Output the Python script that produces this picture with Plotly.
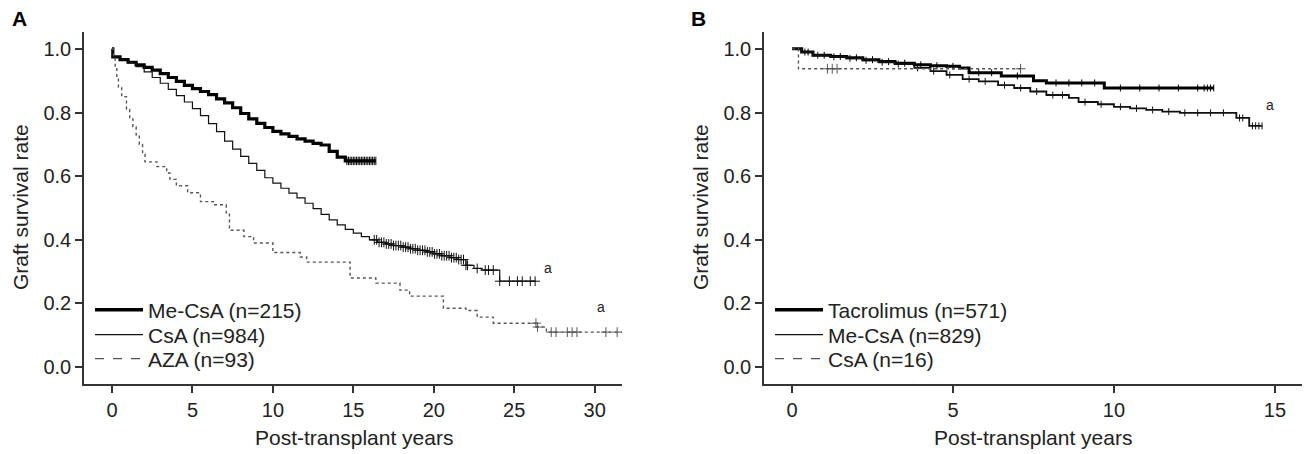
import numpy as np
import plotly.graph_objects as go

# ---------------- Data ----------------
# Panel A
A_mecsa_t = [0, 0.05, 0.5, 1.0, 1.5, 2.0, 2.5, 3.0, 3.5, 4.0, 4.5, 5.0, 5.5, 6.0, 6.5, 7.0, 7.5, 8.0, 8.5, 9.0,
             9.5, 10.0, 10.5, 11.0, 11.5, 12.0, 12.5, 13.0, 13.5, 14.0, 14.5, 16.4]
A_mecsa_s = [1.0, 0.975, 0.966, 0.958, 0.95, 0.942, 0.933, 0.922, 0.91, 0.898, 0.885, 0.875, 0.866, 0.856, 0.843,
             0.83, 0.815, 0.797, 0.78, 0.766, 0.753, 0.741, 0.733, 0.725, 0.717, 0.71, 0.703, 0.698, 0.678, 0.66,
             0.648, 0.648]
A_mecsa_cens = [14.6, 14.7, 14.8, 14.9, 15.0, 15.1, 15.2, 15.3, 15.4, 15.5, 15.6, 15.7, 15.8, 15.9, 16.0,
                16.1, 16.2, 16.3, 16.4]

A_csa_t = [0, 0.05, 0.5, 1.0, 1.5, 2.0, 2.5, 3.0, 3.5, 4.0, 4.5, 5.0, 5.5, 6.0, 6.5, 7.0, 7.5, 8.0, 8.5, 9.0,
           9.5, 10.0, 10.5, 11.0, 11.5, 12.0, 12.5, 13.0, 13.5, 14.0, 14.5, 15.0, 15.5, 16.0, 16.5, 17.0, 17.5,
           18.0, 18.5, 19.0, 19.5, 20.0, 20.5, 21.0, 21.5, 22.0, 22.5, 23.0, 24.1, 26.3]
A_csa_s = [1.0, 0.975, 0.968, 0.956, 0.944, 0.928, 0.91, 0.892, 0.873, 0.853, 0.833, 0.812, 0.79, 0.765, 0.74,
           0.71, 0.685, 0.662, 0.64, 0.618, 0.595, 0.578, 0.562, 0.547, 0.532, 0.515, 0.498, 0.48, 0.463, 0.447,
           0.433, 0.421, 0.41, 0.4, 0.392, 0.387, 0.382, 0.377, 0.372, 0.367, 0.362, 0.356, 0.35, 0.344, 0.338,
           0.32, 0.31, 0.305, 0.27, 0.27]
A_csa_cens = [16.3, 16.45, 16.6, 16.75, 16.9, 17.05, 17.2, 17.35, 17.5, 17.65, 17.8, 17.95, 18.1, 18.25, 18.4,
              18.55, 18.7, 18.85, 19.0, 19.15, 19.3, 19.45, 19.6, 19.75, 19.9, 20.05, 20.2, 20.35, 20.5, 20.65,
              20.8, 20.95, 21.1, 21.25, 21.4, 21.55, 21.7, 21.85, 22.0, 22.1,
              22.7, 23.2, 23.4, 23.7, 24.1, 24.7, 25.2, 25.5, 26.0, 26.3]

A_aza_t = [0, 0.1, 0.2, 0.3, 0.4, 0.6, 0.9, 1.1, 1.3, 1.5, 1.7, 1.9, 2.05, 2.8, 3.4, 3.6, 4.0, 4.7, 5.5, 6.3,
           7.1, 7.3, 8.2, 8.8, 10.0, 11.7, 12.1, 14.8, 16.4, 17.9, 18.5, 20.6, 22.0, 22.7, 23.7, 26.4, 27.0, 31.7]
A_aza_s = [1.0, 0.97, 0.94, 0.91, 0.88, 0.85, 0.81, 0.78, 0.755, 0.73, 0.70, 0.67, 0.645, 0.63, 0.61, 0.59,
           0.57, 0.548, 0.52, 0.51, 0.484, 0.43, 0.41, 0.39, 0.36, 0.346, 0.33, 0.28, 0.264, 0.242, 0.223,
           0.185, 0.178, 0.157, 0.138, 0.126, 0.11, 0.11]
A_aza_cens = [26.35, 26.45, 27.3, 27.6, 28.3, 28.6, 28.9, 30.7, 31.4]

# Panel B
B_tac_t = [0, 0.3, 0.65, 1.2, 1.7, 2.2, 2.7, 3.2, 3.8, 4.3, 4.8, 5.2, 5.5, 6.5, 7.5, 7.9, 9.7, 13.1]
B_tac_s = [1.0, 0.99, 0.98, 0.976, 0.972, 0.966, 0.96, 0.955, 0.95, 0.947, 0.945, 0.94, 0.925, 0.915, 0.9,
           0.893, 0.877, 0.877]
B_tac_cens = [0.5, 1.0, 1.5, 2.0, 2.5, 3.0, 3.5, 4.0, 4.5, 5.0, 5.8, 6.2, 7.0, 8.2, 8.6, 9.0, 9.4,
              10.2, 10.8, 11.4, 12.0, 12.6, 12.8, 12.9, 13.0, 13.1]

B_mecsa_t = [0, 0.3, 0.65, 1.2, 1.7, 2.2, 2.7, 3.2, 3.8, 4.3, 4.8, 5.3, 5.8, 6.4, 6.9, 7.4, 7.9, 8.6, 8.9, 9.5,
             10.0, 10.5, 11.0, 11.5, 12.05, 13.8, 14.2, 14.6]
B_mecsa_s = [1.0, 0.99, 0.98, 0.975, 0.97, 0.964, 0.958, 0.952, 0.94, 0.93, 0.918, 0.905, 0.898, 0.886, 0.877,
             0.866, 0.855, 0.846, 0.833, 0.826, 0.818, 0.813, 0.808, 0.803, 0.799, 0.783, 0.758, 0.758]
B_mecsa_cens = [0.4, 0.8, 1.3, 1.8, 2.3, 2.8, 3.3, 3.9, 4.4, 4.9, 5.5, 6.0, 6.6, 7.1, 7.6, 8.1, 8.4, 9.1,
                9.6, 10.2, 10.7, 11.2, 11.7, 12.2, 12.6, 13.0, 13.4, 13.9, 14.0, 14.3, 14.4, 14.5, 14.6]

B_csa_t = [0, 0.2, 7.1]
B_csa_s = [1.0, 0.9375, 0.9375]
B_csa_cens = [1.1, 1.25, 1.4, 7.1]

A_names = ["Me-CsA (n=215)", "CsA (n=984)", "AZA (n=93)"]
B_names = ["Tacrolimus (n=571)", "Me-CsA (n=829)", "CsA (n=16)"]
y_ticks = [0.0, 0.2, 0.4, 0.6, 0.8, 1.0]

FONT = "Liberation Sans, Arial, sans-serif"
W, H = 1306, 454


def px(x):
    return x / W


def py(y):
    return 1 - y / H


def step_at(t, s, q):
    t = np.asarray(t)
    s = np.asarray(s)
    idx = np.searchsorted(t, np.asarray(q), side="right") - 1
    return s[np.clip(idx, 0, len(s) - 1)]


fig = go.Figure()
legend_rows = [310, 335, 359]


def add_curve(t, s, cens, name, width, color, dash, xa, ya, legend, leg_dash, leg_width, mark_sym, mark_size):
    fig.add_trace(go.Scatter(x=t, y=s, mode="lines", line=dict(shape="hv", width=width, color=color, dash=dash),
                             xaxis=xa, yaxis=ya, showlegend=False, hoverinfo="skip"))
    fig.add_trace(go.Scatter(x=cens, y=step_at(t, s, cens), mode="markers",
                             marker=dict(symbol=mark_sym, size=mark_size, color=color,
                                         line=dict(width=1, color=color)),
                             xaxis=xa, yaxis=ya, showlegend=False, hoverinfo="skip"))
    fig.add_trace(go.Scatter(x=[None], y=[None], mode="lines", name=name,
                             line=dict(width=leg_width, color=color, dash=leg_dash),
                             xaxis=xa, yaxis=ya, legend=legend, showlegend=True))


add_curve(A_mecsa_t, A_mecsa_s, A_mecsa_cens, A_names[0], 3.2, "#000", "solid", "x", "y", "legend", "solid", 3.5, "line-ns", 6)
add_curve(A_csa_t, A_csa_s, A_csa_cens, A_names[1], 1.2, "#111", "solid", "x", "y", "legend2", "solid", 1.3, "cross-thin", 7)
add_curve(A_aza_t, A_aza_s, A_aza_cens, A_names[2], 1.4, "#555", "dot", "x", "y", "legend3", "dash", 1.3, "cross-thin", 7)

add_curve(B_tac_t, B_tac_s, B_tac_cens, B_names[0], 3.0, "#000", "solid", "x2", "y2", "legend4", "solid", 3.5, "line-ns", 5)
add_curve(B_mecsa_t, B_mecsa_s, B_mecsa_cens, B_names[1], 1.8, "#111", "solid", "x2", "y2", "legend5", "solid", 1.3, "line-ns", 5)
add_curve(B_csa_t, B_csa_s, B_csa_cens, B_names[2], 1.4, "#555", "dot", "x2", "y2", "legend6", "dash", 1.3, "cross-thin", 7)

axis_common = dict(showline=True, linecolor="#333", linewidth=1.5, ticks="outside", ticklen=7, tickwidth=1.5,
                   tickcolor="#333", showgrid=False, zeroline=False,
                   tickfont=dict(family=FONT, size=20, color="#222"))

layout = dict(
    width=W, height=H,
    margin=dict(l=0, r=0, t=0, b=0),
    paper_bgcolor="white", plot_bgcolor="white",
    font=dict(family=FONT, color="#222"),
    xaxis=dict(domain=[px(84), px(622)], range=[-1.74, 31.7], tickvals=[0, 5, 10, 15, 20, 25, 30], anchor="y",
               **axis_common),
    yaxis=dict(domain=[py(384), py(32)], range=[-0.053, 1.053], tickvals=y_ticks, tickformat=".1f", anchor="x",
               **axis_common),
    xaxis2=dict(domain=[px(764), px(1302)], range=[-0.87, 15.84], tickvals=[0, 5, 10, 15], anchor="y2",
                **axis_common),
    yaxis2=dict(domain=[py(384), py(32)], range=[-0.053, 1.053], tickvals=y_ticks, tickformat=".1f", anchor="x2",
                **axis_common),
    showlegend=True,
)
leg_keys = ["legend", "legend2", "legend3", "legend4", "legend5", "legend6"]
for i, key in enumerate(leg_keys):
    x0 = 90 if i < 3 else 770
    row = legend_rows[i % 3]
    layout[key] = dict(x=px(x0), y=py(row), xanchor="left", yanchor="middle", bgcolor="rgba(0,0,0,0)",
                       font=dict(family=FONT, size=21, color="#222"), itemwidth=48)
fig.update_layout(**layout)

ann = []
ann.append(dict(text="<b>A</b>", x=px(10), y=py(19), xref="paper", yref="paper", xanchor="left", yanchor="middle",
                showarrow=False, font=dict(family=FONT, size=21, color="#000")))
ann.append(dict(text="<b>B</b>", x=px(689), y=py(19), xref="paper", yref="paper", xanchor="left", yanchor="middle",
                showarrow=False, font=dict(family=FONT, size=21, color="#000")))
for cx in [20, 700]:
    ann.append(dict(text="Graft survival rate", x=px(cx), y=py(207), xref="paper", yref="paper", textangle=-90,
                    xanchor="center", yanchor="middle", showarrow=False,
                    font=dict(family=FONT, size=21, color="#222")))
for cx in [354, 1033]:
    ann.append(dict(text="Post-transplant years", x=px(cx), y=py(437), xref="paper", yref="paper",
                    xanchor="center", yanchor="middle", showarrow=False,
                    font=dict(family=FONT, size=21, color="#222")))
for txt, xv, yv, xr, yr in [("a", 27.1, 0.31, "x", "y"), ("a", 30.4, 0.19, "x", "y"), ("a", 14.85, 0.825, "x2", "y2")]:
    ann.append(dict(text=txt, x=xv, y=yv, xref=xr, yref=yr, showarrow=False,
                    font=dict(family=FONT, size=14, color="#222")))
fig.update_layout(annotations=ann)

fig.write_html("out.html", config={"displayModeBar": False},
               post_script="document.body.style.margin='0';")
